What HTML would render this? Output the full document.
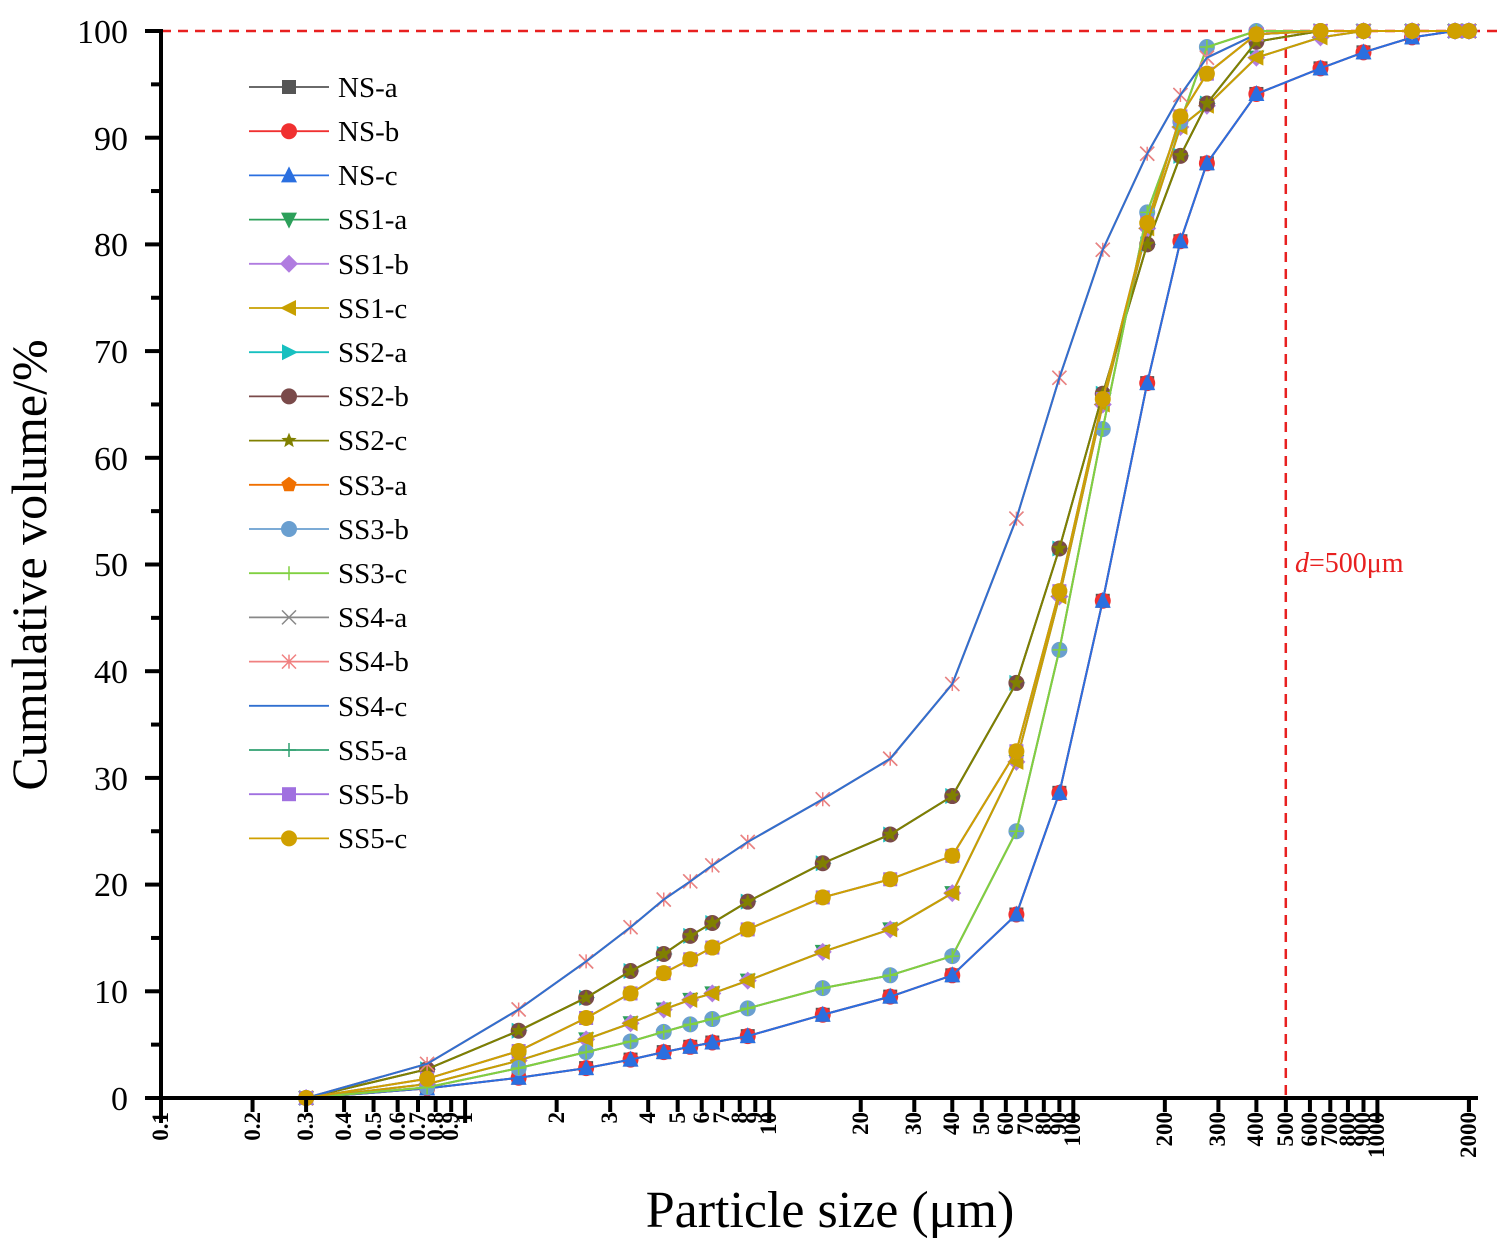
<!DOCTYPE html>
<html><head><meta charset="utf-8"><style>body{margin:0;background:#fff;position:relative;width:1504px;height:1246px;overflow:hidden}svg{display:block;position:absolute;left:0;top:0}
.xl div{position:absolute;top:1112px;width:24px;line-height:24px;writing-mode:vertical-rl;transform:rotate(180deg);font-family:"Liberation Serif",serif;font-size:23px;font-weight:bold;color:#000;white-space:nowrap}</style></head>
<body>
<svg id="s" width="1504" height="1246" xmlns="http://www.w3.org/2000/svg" font-family="Liberation Serif, serif">
<line x1="161" y1="31" x2="1500" y2="31" stroke="#e82020" stroke-width="2.5" stroke-dasharray="10,7"/>
<line x1="1285.8" y1="31" x2="1285.8" y2="1098" stroke="#e82020" stroke-width="2.5" stroke-dasharray="10,7"/>
<text x="1295" y="572" font-size="28" fill="#e82020"><tspan font-style="italic">d</tspan>=500μm</text>
<g id="series"></g>
<g id="axes" stroke="#000" stroke-width="4"></g>
<g font-size="34" text-anchor="end">
<text x="128" y="1110">0</text><text x="128" y="1003">10</text><text x="128" y="896">20</text><text x="128" y="790">30</text><text x="128" y="683">40</text><text x="128" y="576">50</text><text x="128" y="470">60</text><text x="128" y="363">70</text><text x="128" y="256">80</text><text x="128" y="150">90</text><text x="128" y="43">100</text>
</g>
<text transform="translate(46,565) rotate(-90)" font-size="50" text-anchor="middle">Cumulative volume/%</text>
<text x="830" y="1227" font-size="52" text-anchor="middle">Particle size (μm)</text>
<g id="legend"></g>
<g font-size="29">
<text x="338" y="97">NS-a</text><text x="338" y="141">NS-b</text><text x="338" y="185">NS-c</text>
<text x="338" y="229">SS1-a</text><text x="338" y="274">SS1-b</text><text x="338" y="318">SS1-c</text>
<text x="338" y="362">SS2-a</text><text x="338" y="406">SS2-b</text><text x="338" y="450">SS2-c</text>
<text x="338" y="495">SS3-a</text><text x="338" y="539">SS3-b</text><text x="338" y="583">SS3-c</text>
<text x="338" y="627">SS4-a</text><text x="338" y="671">SS4-b</text><text x="338" y="716">SS4-c</text>
<text x="338" y="760">SS5-a</text><text x="338" y="804">SS5-b</text><text x="338" y="848">SS5-c</text>
</g>
</svg>
<div class="xl">
<div style="left:149px">0.1</div>
<div style="left:240.5px">0.2</div>
<div style="left:294px">0.3</div>
<div style="left:332px">0.4</div>
<div style="left:361.6px">0.5</div>
<div style="left:385.6px">0.6</div>
<div style="left:406px">0.7</div>
<div style="left:423.6px">0.8</div>
<div style="left:439.2px">0.9</div>
<div style="left:453px">1</div>
<div style="left:544.6px">2</div>
<div style="left:598px">3</div>
<div style="left:636px">4</div>
<div style="left:665.6px">5</div>
<div style="left:689.7px">6</div>
<div style="left:710px">7</div>
<div style="left:727.6px">8</div>
<div style="left:743.2px">9</div>
<div style="left:757.1px">10</div>
<div style="left:848.7px">20</div>
<div style="left:902.2px">30</div>
<div style="left:940.2px">40</div>
<div style="left:969.7px">50</div>
<div style="left:993.8px">60</div>
<div style="left:1014.1px">70</div>
<div style="left:1031.7px">80</div>
<div style="left:1047.3px">90</div>
<div style="left:1061.2px">100</div>
<div style="left:1152.8px">200</div>
<div style="left:1206.3px">300</div>
<div style="left:1244.3px">400</div>
<div style="left:1273.8px">500</div>
<div style="left:1297.9px">600</div>
<div style="left:1318.3px">700</div>
<div style="left:1335.9px">800</div>
<div style="left:1351.4px">900</div>
<div style="left:1365.3px">1000</div>
<div style="left:1456.9px">2000</div>
</div>
<script>
const NS='http://www.w3.org/2000/svg';
function el(p,t,a){const e=document.createElementNS(NS,t);for(const k in a)e.setAttribute(k,a[k]);p.appendChild(e);return e;}
const px=v=>161+304.1*(Math.log10(v)+1), py=v=>1098-10.67*v;
const ax=document.getElementById('axes');
el(ax,'line',{x1:161,y1:1098,x2:1478,y2:1098});
el(ax,'line',{x1:161,y1:29,x2:161,y2:1100});
for(let d=-1;d<=3;d++)for(let m=1;m<=9;m++){const v=m*Math.pow(10,d);if(v>2000)break;const x=px(v);el(ax,'line',{x1:x,y1:1098,x2:x,y2:m==1?1123:1112});}
el(ax,'line',{x1:px(2000),y1:1098,x2:px(2000),y2:1112});
for(let i=0;i<=20;i++){const y=py(i*5);el(ax,'line',{x1:161,y1:y,x2:i%2?151:145,y2:y});}
const X=[0.3,0.75,1.5,2.5,3.5,4.5,5.5,6.5,8.5,15,25,40,65,90,125,175,225,275,400,650,900,1300,1800,2000];
const G={
A:[0,0.9,1.9,2.8,3.6,4.3,4.8,5.2,5.8,7.8,9.5,11.5,17.2,28.6,46.6,67,80.3,87.6,94.1,96.5,98,99.4,100,100],
S4:[0,3.2,8.3,12.8,16,18.6,20.3,21.8,24,28,31.8,38.8,54.3,67.5,79.5,88.5,94,97.5,99.7,100,100,100,100,100],
S2:[0,2.7,6.3,9.4,11.9,13.5,15.2,16.4,18.4,22,24.7,28.3,38.9,51.5,66,80,88.3,93.2,99,100,100,100,100,100],
S5:[0,1.8,4.4,7.5,9.8,11.7,13,14.1,15.8,18.8,20.5,22.7,32.5,47.5,65.5,82,92,96,99.7,100,100,100,100,100],
S1:[0,1.3,3.5,5.5,7,8.3,9.2,9.8,11,13.7,15.8,19.2,31.5,47,65,81.5,91,93,97.5,99.4,100,100,100,100],
S3:[0,1,2.8,4.3,5.3,6.2,6.9,7.4,8.4,10.3,11.5,13.3,25,42,62.7,83,91.5,98.5,100,100,100,100,100,100]};
const S=[['#555','sq','A'],['#f03030','ci','A'],['#2a6fe0','tu','A'],
['#2ca05a','td','S1'],['#b07ce0','di','S1'],['#c8a000','tl','S1'],
['#17c0c0','tr','S2'],['#7a4a4a','ci','S2'],['#808000','st','S2'],
['#f07000','pe','S3'],['#6a9fd0','ci','S3'],['#80d040','pl','S3'],
['#888','x','S4'],['#f08080','as','S4'],['#3070d0','no','S4'],
['#30a070','pl','S5'],['#a070e0','sq','S5'],['#d0a000','ci','S5']];
function mk(g,t,x,y,c){const r=7;
if(t=='sq')el(g,'rect',{x:x-r,y:y-r,width:2*r,height:2*r,fill:c});
else if(t=='ci')el(g,'circle',{cx:x,cy:y,r:r+1,fill:c});
else if(t=='tu')el(g,'polygon',{points:`${x},${y-r-2} ${x-r-1},${y+r} ${x+r+1},${y+r}`,fill:c});
else if(t=='td')el(g,'polygon',{points:`${x},${y+r+2} ${x-r-1},${y-r} ${x+r+1},${y-r}`,fill:c});
else if(t=='tl')el(g,'polygon',{points:`${x-r-2},${y} ${x+r},${y-r-1} ${x+r},${y+r+1}`,fill:c});
else if(t=='tr')el(g,'polygon',{points:`${x+r+2},${y} ${x-r},${y-r-1} ${x-r},${y+r+1}`,fill:c});
else if(t=='di')el(g,'polygon',{points:`${x},${y-r-2} ${x+r+2},${y} ${x},${y+r+2} ${x-r-2},${y}`,fill:c});
else if(t=='pe')el(g,'polygon',{points:[0,1,2,3,4].map(i=>{const a=-Math.PI/2+i*2*Math.PI/5;return (x+8*Math.cos(a))+','+(y+8*Math.sin(a));}).join(' '),fill:c});
else if(t=='st')el(g,'polygon',{points:[...Array(10)].map((_,i)=>{const a=-Math.PI/2+i*Math.PI/5,R=i%2?3.5:8;return (x+R*Math.cos(a))+','+(y+R*Math.sin(a));}).join(' '),fill:c});
else if(t=='pl'){el(g,'path',{d:`M${x-r},${y}H${x+r}M${x},${y-r}V${y+r}`,stroke:c,'stroke-width':1.5});}
else if(t=='x'){el(g,'path',{d:`M${x-r},${y-r}L${x+r},${y+r}M${x-r},${y+r}L${x+r},${y-r}`,stroke:c,'stroke-width':1.5});}
else if(t=='as'){el(g,'path',{d:`M${x-r},${y-r}L${x+r},${y+r}M${x-r},${y+r}L${x+r},${y-r}M${x},${y-r}V${y+r}`,stroke:c,'stroke-width':1.5});}
}
const sg=document.getElementById('series'),lg=document.getElementById('legend');
S.forEach((s,i)=>{const d=G[s[2]];const pts=X.map((v,j)=>[px(v),py(d[j])]);
el(sg,'polyline',{points:pts.map(p=>p.join(',')).join(' '),fill:'none',stroke:s[0],'stroke-width':2});
const g=el(sg,'g',{});pts.forEach(p=>mk(g,s[1],p[0],p[1],s[0]));
const ly=87+i*44.2;el(lg,'line',{x1:249,y1:ly,x2:329,y2:ly,stroke:s[0],'stroke-width':1.8});mk(lg,s[1],289,ly,s[0]);});
</script>
</body></html>
